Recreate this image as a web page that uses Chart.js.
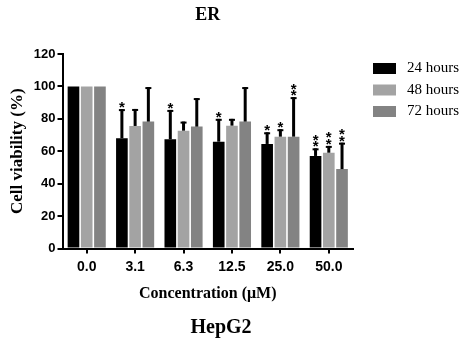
<!DOCTYPE html>
<html>
<head>
<meta charset="utf-8">
<script src="https://cdn.jsdelivr.net/npm/chart.js@4.4.1/dist/chart.umd.min.js"></script>
<style>body{margin:0;background:#fff}</style>
</head>
<body>
<canvas id="viability" width="465" height="342"></canvas>
<script>
var concentrations = ['0.0', '3.1', '6.3', '12.5', '25.0', '50.0'];
var seriesNames = ['24 hours', '48 hours', '72 hours'];
var seriesColors = ['#000000', '#a3a3a3', '#838383'];

var mean24 = [100, 68.0, 67.4, 65.9, 64.5, 57.1];
var mean48 = [100, 75.6, 72.7, 75.8, 69.0, 59.1];
var mean72 = [100, 78.3, 75.2, 78.3, 69.0, 49.0];

var sd24 = [0, 18.0, 18.1, 14.1, 7.2, 4.7];
var sd48 = [0, 10.5, 5.6, 4.2, 4.6, 4.2];
var sd72 = [0, 21.3, 17.6, 21.3, 24.4, 16.3];

var stars24 = ['', '*', '*', '*', '*', '**'];
var stars48 = ['', '', '', '', '*', '**'];
var stars72 = ['', '', '', '', '**', '**'];

var serif = '"Liberation Serif", "Times New Roman", serif';
var sans = '"Liberation Sans", Arial, sans-serif';

// error bars (upper only), significance stars, legend and cell-line label
var extras = {
  id: 'extras',
  afterDatasetsDraw: function(chart) {
    var c = chart.ctx, y = chart.scales.y;
    c.save();
    chart.data.datasets.forEach(function(ds, i) {
      chart.getDatasetMeta(i).data.forEach(function(bar, j) {
        var top = y.getPixelForValue(ds.data[j] + ds.errors[j]);
        c.strokeStyle = '#000';
        if (ds.errors[j] > 0) {
          c.lineWidth = 3;
          c.beginPath(); c.moveTo(bar.x, bar.y); c.lineTo(bar.x, top); c.stroke();
          c.lineWidth = 2;
          c.beginPath(); c.moveTo(bar.x - 3, top + 1); c.lineTo(bar.x + 3, top + 1); c.stroke();
        }
        c.fillStyle = '#000';
        c.font = 'bold 15px ' + sans;
        c.textAlign = 'center';
        c.textBaseline = 'alphabetic';
        for (var k = 0; k < ds.stars[j].length; k++) {
          c.fillText('*', bar.x, top + 3 - k * 6.5);
        }
      });
    });
    // legend
    c.font = '15px ' + serif;
    c.textAlign = 'left';
    c.textBaseline = 'middle';
    var rows = [68.5, 90, 111.5];
    chart.data.datasets.forEach(function(ds, i) {
      c.fillStyle = ds.backgroundColor;
      c.fillRect(373, rows[i] - 5.5, 23, 11);
      c.fillStyle = '#000';
      c.fillText(ds.label, 407, rows[i]);
    });
    c.font = 'bold 20px ' + serif;
    c.textAlign = 'center';
    c.fillText('HepG2', 221, 328);
    c.restore();
  }
};

var ctx = document.getElementById('viability').getContext('2d');

function series(i, data, errors, stars) {
  return {
    label: seriesNames[i],
    data: data,
    errors: errors,
    stars: stars,
    backgroundColor: seriesColors[i],
    borderWidth: 0,
    categoryPercentage: 0.82,
    barPercentage: 0.88
  };
}

var chart = new Chart(ctx, {
  type: 'bar',
  data: {
    labels: concentrations,
    datasets: [
      series(0, mean24, sd24, stars24),
      series(1, mean48, sd48, stars48),
      series(2, mean72, sd72, stars72)
    ]
  },
  options: {
    responsive: false,
    animation: false,
    layout: { padding: { top: 0, left: 0, right: 112, bottom: 0 } },
    plugins: {
      legend: { display: false },
      tooltip: { enabled: false },
      title: {
        display: true,
        fullSize: false,
        text: 'ER',
        color: '#000',
        font: { family: serif, size: 18, weight: 'bold' },
        padding: { top: 4.2, bottom: 28.2 }
      }
    },
    scales: {
      x: {
        afterFit: function(scale) { scale.height = 93.5; },
        grid: { display: true, drawOnChartArea: false, offset: false, tickLength: 5, color: '#000', lineWidth: 2 },
        border: { display: true, color: '#000', width: 2 },
        ticks: { color: '#000', padding: 5, font: { family: sans, size: 14, weight: 'bold' } },
        title: {
          display: true,
          text: 'Concentration (μM)',
          color: '#000',
          font: { family: serif, size: 16, weight: 'bold' },
          padding: { top: 8, bottom: 38.4 }
        }
      },
      y: {
        min: 0,
        max: 120,
        afterFit: function(scale) { scale.width = 62.5; },
        grid: { display: true, drawOnChartArea: false, tickLength: 5, color: '#000', lineWidth: 2 },
        border: { display: true, color: '#000', width: 2 },
        ticks: { stepSize: 20, color: '#000', padding: 2, font: { family: sans, size: 13, weight: 'bold' } },
        title: {
          display: true,
          text: 'Cell viability (%)',
          color: '#000',
          font: { family: serif, size: 17, weight: 'bold' },
          padding: { top: 7.8, bottom: 4 }
        }
      }
    }
  },
  plugins: [extras]
});
</script>
</body>
</html>
